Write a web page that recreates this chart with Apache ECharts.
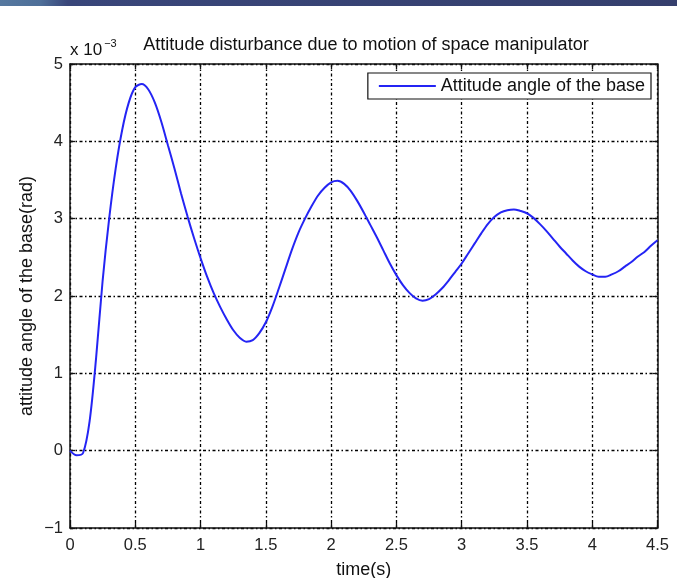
<!DOCTYPE html>
<html>
<head>
<meta charset="utf-8">
<script src="https://cdn.jsdelivr.net/npm/echarts@6/dist/echarts.min.js"></script>
<style>
  html, body { margin: 0; padding: 0; background: #ffffff; }
  #chart { width: 677px; height: 578px; }
</style>
</head>
<body>
<div id="chart"></div>
<script>
// Time samples (s), every 0.05 s
const timeS = [0, 0.05, 0.1, 0.15, 0.2, 0.25, 0.3, 0.35, 0.4, 0.45, 0.5, 0.55, 0.6, 0.65, 0.7, 0.75, 0.8, 0.85, 0.9, 0.95,
  1.0, 1.05, 1.1, 1.15, 1.2, 1.25, 1.3, 1.35, 1.4, 1.45, 1.5, 1.55, 1.6, 1.65, 1.7, 1.75, 1.8, 1.85, 1.9, 1.95,
  2.0, 2.05, 2.1, 2.15, 2.2, 2.25, 2.3, 2.35, 2.4, 2.45, 2.5, 2.55, 2.6, 2.65, 2.7, 2.75, 2.8, 2.85, 2.9, 2.95,
  3.0, 3.05, 3.1, 3.15, 3.2, 3.25, 3.3, 3.35, 3.4, 3.45, 3.5, 3.55, 3.6, 3.65, 3.7, 3.75, 3.8, 3.85, 3.9, 3.95,
  4.0, 4.05, 4.1, 4.15, 4.2, 4.25, 4.3, 4.35, 4.4, 4.45, 4.5];
// Base attitude angle (x 10^-3 rad)
const attitudeAngle = [0, -0.06, -0.03, 0.38, 1.2, 2.2, 3.0, 3.65, 4.15, 4.5, 4.7, 4.74, 4.67, 4.5, 4.25, 3.95, 3.65, 3.33, 3.03, 2.75,
  2.49, 2.25, 2.04, 1.86, 1.70, 1.56, 1.46, 1.41, 1.43, 1.52, 1.66, 1.86, 2.1, 2.35, 2.6, 2.82, 3.0, 3.16, 3.3, 3.40,
  3.47, 3.49, 3.45, 3.36, 3.23, 3.08, 2.92, 2.76, 2.59, 2.42, 2.27, 2.14, 2.04, 1.97, 1.94, 1.96, 2.02, 2.1, 2.2, 2.31,
  2.42, 2.55, 2.68, 2.81, 2.93, 3.02, 3.08, 3.11, 3.12, 3.10, 3.07, 3.01, 2.93, 2.84, 2.74, 2.64, 2.55, 2.46, 2.38, 2.32,
  2.28, 2.25, 2.25, 2.28, 2.32, 2.38, 2.44, 2.51, 2.57, 2.65, 2.72];

const xTicks = [0, 0.5, 1, 1.5, 2, 2.5, 3, 3.5, 4, 4.5];
const yTicks = [-1, 0, 1, 2, 3, 4, 5];

const chartTitle = 'Attitude disturbance due to motion of space manipulator';
const seriesName = 'Attitude angle of the base';
const xName = 'time(s)';
const yName = 'attitude angle of the base(rad)';

const points = timeS.map((t, i) => [t, attitudeAngle[i]]);
const FONT = '"Liberation Sans", Arial, Helvetica, sans-serif';
const INK = '#111';
const gridDash = { color: '#000', width: 1.3, type: [3, 2.5, 1.5, 2.5] };
const frame = { color: INK, width: 1.5 };
const tickIn = { show: true, inside: true, length: 5, lineStyle: { color: INK, width: 1.3 } };

const fmtNum = v => (v < 0 ? '\u2212' + Math.abs(v) : String(v));

const chart = echarts.init(document.getElementById('chart'), null, { renderer: 'canvas' });

chart.setOption({
  backgroundColor: '#ffffff',
  animation: false,
  title: {
    text: chartTitle,
    left: 361, top: 31, textAlign: 'center',
    textStyle: { fontFamily: FONT, fontSize: 18, fontWeight: 'normal', color: INK }
  },
  legend: {
    data: [{ name: seriesName, icon: 'rect' }],
    right: 26, top: 73,
    backgroundColor: '#fff',
    borderColor: INK, borderWidth: 1.2, borderRadius: 0,
    padding: [4, 6, 4, 11],
    itemWidth: 57, itemHeight: 2, itemGap: 4,
    textStyle: { fontFamily: FONT, fontSize: 18, color: INK, padding: [0, 0, 0, 0] }
  },
  grid: { left: 70, right: 19.5, top: 64, bottom: 50, containLabel: false, outerBoundsMode: 'none' },
  xAxis: [
    {
      type: 'value', min: 0, max: 4.5, interval: 0.5, position: 'bottom',
      name: xName, nameLocation: 'middle', nameGap: 33, nameMoveOverlap: false,
      nameTextStyle: { fontFamily: FONT, fontSize: 18, color: INK },
      axisLine: { show: true, onZero: false, lineStyle: frame },
      axisTick: tickIn,
      axisLabel: { fontFamily: FONT, fontSize: 16.5, color: '#222', margin: 9, formatter: fmtNum },
      splitLine: { show: true, lineStyle: gridDash }
    },
    {
      type: 'value', min: 0, max: 4.5, interval: 0.5, position: 'top',
      axisLine: { show: true, onZero: false, lineStyle: frame },
      axisTick: tickIn,
      axisLabel: { show: false },
      splitLine: { show: false }
    }
  ],
  yAxis: [
    {
      type: 'value', min: -1, max: 5, interval: 1, position: 'left',
      name: yName, nameLocation: 'middle', nameGap: 34, nameRotate: 90, nameMoveOverlap: false,
      nameTextStyle: { fontFamily: FONT, fontSize: 18, color: INK },
      axisLine: { show: true, onZero: false, lineStyle: frame },
      axisTick: tickIn,
      axisLabel: { fontFamily: FONT, fontSize: 16.5, color: '#222', margin: 7, formatter: fmtNum },
      splitLine: { show: true, lineStyle: gridDash }
    },
    {
      type: 'value', min: -1, max: 5, interval: 1, position: 'right',
      axisLine: { show: true, onZero: false, lineStyle: frame },
      axisTick: tickIn,
      axisLabel: { show: false },
      splitLine: { show: false }
    }
  ],
  series: [
    {
      name: seriesName,
      type: 'line',
      xAxisIndex: 0, yAxisIndex: 0,
      data: points,
      smooth: 0.3,
      symbol: 'none',
      lineStyle: { color: '#2424f4', width: 2 },
      itemStyle: { color: '#2424f4' },
      z: 5
    }
  ],
  graphic: [
    // header band across the top of the page
    {
      type: 'rect', left: 0, top: 0, z: 100,
      shape: { width: 677, height: 6 },
      style: {
        fill: new echarts.graphic.LinearGradient(0, 0, 1, 0, [
          { offset: 0, color: '#56789f' },
          { offset: 0.06, color: '#4e6f99' },
          { offset: 0.1, color: '#39467a' },
          { offset: 1, color: '#353f6d' }
        ])
      }
    },
    // exponent label above the y axis
    {
      type: 'text', left: 70, top: 38, z: 100,
      style: {
        text: '{b|x 10}{s|\u22123}',
        rich: {
          b: { fontFamily: FONT, fontSize: 17, fill: INK, verticalAlign: 'bottom' },
          s: { fontFamily: FONT, fontSize: 11, fill: INK, padding: [0, 0, 10, 2] }
        }
      }
    }
  ]
});
</script>
</body>
</html>
